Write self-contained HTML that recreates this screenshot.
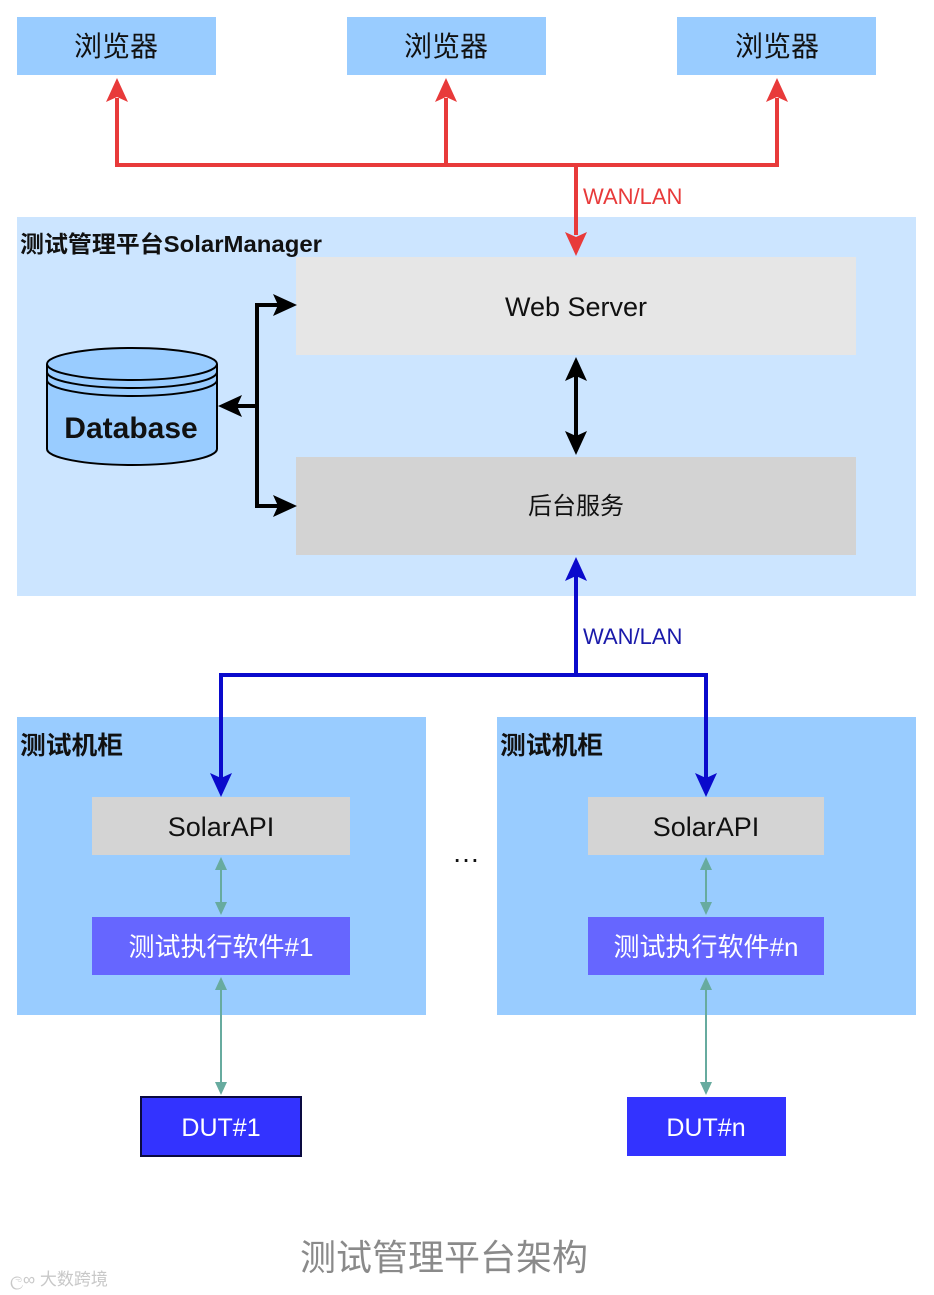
<!DOCTYPE html>
<html><head><meta charset="utf-8">
<style>
html,body{margin:0;padding:0;background:#fff;}
svg{display:block;}
text{font-family:"Liberation Sans","Noto Sans CJK SC",sans-serif;}
</style></head>
<body>
<svg width="934" height="1295" viewBox="0 0 934 1295" xmlns="http://www.w3.org/2000/svg">
<rect width="934" height="1295" fill="#fff"/>
<rect x="17" y="217" width="899" height="379" fill="#cce5ff"/>
<g fill="#99ccff">
<rect x="17" y="17" width="199" height="58"/>
<rect x="347" y="17" width="199" height="58"/>
<rect x="677" y="17" width="199" height="58"/>
</g>
<g font-size="28" fill="#111" text-anchor="middle">
<text x="116" y="56">浏览器</text>
<text x="446" y="56">浏览器</text>
<text x="777" y="56">浏览器</text>
</g>
<g stroke="#e83a3a" stroke-width="4" fill="none">
<polyline points="117,98 117,165 777,165 777,98"/>
<line x1="446" y1="165" x2="446" y2="98"/>
<line x1="576" y1="165" x2="576" y2="235"/>
</g>
<g fill="#e83a3a">
<path d="M117,78 L106,102 L117,97 L128,102 Z"/>
<path d="M446,78 L435,102 L446,97 L457,102 Z"/>
<path d="M777,78 L766,102 L777,97 L788,102 Z"/>
<path d="M576,256 L565,232 L576,237 L587,232 Z"/>
</g>
<text x="583" y="204" font-size="22" fill="#e83a3a">WAN/LAN</text>
<text x="20" y="252" font-size="23" font-weight="bold" fill="#111" textLength="302" lengthAdjust="spacingAndGlyphs">测试管理平台SolarManager</text>
<rect x="296" y="257" width="560" height="98" fill="#e6e6e6"/>
<text x="576" y="316" font-size="27" fill="#111" text-anchor="middle">Web Server</text>
<rect x="296" y="457" width="560" height="98" fill="#d3d3d3"/>
<text x="576" y="514" font-size="24" fill="#111" text-anchor="middle">后台服务</text>
<line x1="576" y1="370" x2="576" y2="442" stroke="#000" stroke-width="4"/>
<path d="M576,357 L565,381 L576,376 L587,381 Z" fill="#000"/>
<path d="M576,455 L565,431 L576,436 L587,431 Z" fill="#000"/>
<g stroke="#000" stroke-width="2" fill="#99ccff">
<path d="M47,364 L47,449 A85,16 0 0 0 217,449 L217,364"/>
<ellipse cx="132" cy="364" rx="85" ry="16"/>
<path d="M47,372 A85,16 0 0 0 217,372" fill="none"/>
<path d="M47,380 A85,16 0 0 0 217,380" fill="none"/>
</g>
<text x="131" y="438" font-size="30" font-weight="bold" fill="#111" text-anchor="middle">Database</text>
<g stroke="#000" stroke-width="4" fill="none">
<polyline points="285,305 257,305 257,506 285,506"/>
<line x1="257" y1="406" x2="230" y2="406"/>
</g>
<g fill="#000">
<path d="M297,305 L273,294 L278,305 L273,316 Z"/>
<path d="M297,506 L273,495 L278,506 L273,517 Z"/>
<path d="M218,406 L242,395 L237,406 L242,417 Z"/>
</g>
<rect x="17" y="717" width="409" height="298" fill="#99ccff"/>
<rect x="497" y="717" width="419" height="298" fill="#99ccff"/>
<g stroke="#0a0acc" stroke-width="4" fill="none">
<line x1="576" y1="675" x2="576" y2="575"/>
<polyline points="221,780 221,675 706,675 706,780"/>
</g>
<g fill="#0a0acc">
<path d="M576,557 L565,581 L576,576 L587,581 Z"/>
<path d="M221,797 L210,773 L221,778 L232,773 Z"/>
<path d="M706,797 L695,773 L706,778 L717,773 Z"/>
</g>
<text x="583" y="644" font-size="22" fill="#1a1aaa">WAN/LAN</text>
<text x="20" y="754" font-size="25" font-weight="bold" fill="#111" textLength="103" lengthAdjust="spacingAndGlyphs">测试机柜</text>
<text x="500" y="754" font-size="25" font-weight="bold" fill="#111" textLength="103" lengthAdjust="spacingAndGlyphs">测试机柜</text>
<rect x="92" y="797" width="258" height="58" fill="#d4d4d4"/>
<rect x="588" y="797" width="236" height="58" fill="#d4d4d4"/>
<text x="221" y="836" font-size="27" fill="#111" text-anchor="middle">SolarAPI</text>
<text x="706" y="836" font-size="27" fill="#111" text-anchor="middle">SolarAPI</text>
<rect x="92" y="917" width="258" height="58" fill="#6666ff"/>
<rect x="588" y="917" width="236" height="58" fill="#6666ff"/>
<text x="221" y="956" font-size="26" fill="#fff" text-anchor="middle">测试执行软件#1</text>
<text x="706" y="956" font-size="26" fill="#fff" text-anchor="middle">测试执行软件#n</text>
<text x="466" y="862" font-size="28" fill="#111" text-anchor="middle">…</text>
<g stroke="#67ab9f" stroke-width="2" fill="none">
<line x1="221" y1="860" x2="221" y2="912"/>
<line x1="706" y1="860" x2="706" y2="912"/>
<line x1="221" y1="980" x2="221" y2="1092"/>
<line x1="706" y1="980" x2="706" y2="1092"/>
</g>
<g fill="#67ab9f">
<path d="M221,857 L215,870 L227,870 Z"/><path d="M221,915 L215,902 L227,902 Z"/>
<path d="M706,857 L700,870 L712,870 Z"/><path d="M706,915 L700,902 L712,902 Z"/>
<path d="M221,977 L215,990 L227,990 Z"/><path d="M221,1095 L215,1082 L227,1082 Z"/>
<path d="M706,977 L700,990 L712,990 Z"/><path d="M706,1095 L700,1082 L712,1082 Z"/>
</g>
<rect x="141" y="1097" width="160" height="59" fill="#3333ff" stroke="#0a0a40" stroke-width="2"/>
<rect x="627" y="1097" width="159" height="59" fill="#3333ff"/>
<text x="221" y="1136" font-size="25" fill="#fff" text-anchor="middle">DUT#1</text>
<text x="706" y="1136" font-size="25" fill="#fff" text-anchor="middle">DUT#n</text>
<text x="444" y="1270" font-size="36" fill="#8a8a8a" text-anchor="middle">测试管理平台架构</text>
<text x="10" y="1285" font-size="17" fill="#c8c8c8">ල∞ 大数跨境</text>
</svg>
</body></html>
